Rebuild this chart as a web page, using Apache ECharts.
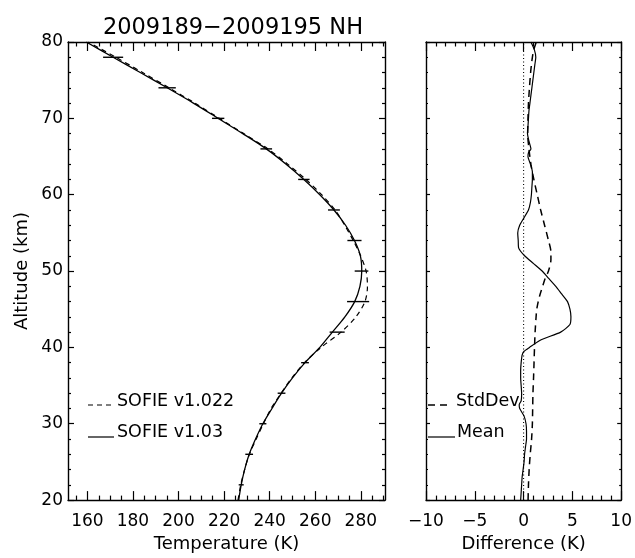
<!DOCTYPE html>
<html>
  <head>
    <meta charset="utf-8" />
    <title>2009189-2009195 NH</title>
    <script src="https://cdn.jsdelivr.net/npm/echarts@6/dist/echarts.min.js"></script>
  </head>
  <body style="margin: 0; background: #fff">
    <div id="main" style="width: 635px; height: 558px"></div>

    <script type="text/javascript">
      // temperature profiles, 2 km grid
      var altitude = [20, 22, 24, 26, 28, 30, 32, 34, 36, 38, 40, 42, 44, 46, 48, 50,
        52, 54, 56, 58, 60, 62, 64, 66, 68, 70, 72, 74, 76, 78, 80];
      var tempV103 = [226.4, 227.5, 229.0, 231.0, 233.8, 237.0, 241.0, 245.2, 250.0, 255.5,
        262.0, 267.5, 273.0, 277.3, 279.6, 280.4, 279.8, 277.2, 273.3, 268.2, 262.0,
        255.0, 247.2, 238.5, 228.2, 217.4, 206.5, 195.0, 183.2, 171.3, 159.5];
      var tempV1022 = [226.1, 227.3, 229.0, 231.1, 234.1, 237.25, 240.6, 245.0, 249.7, 255.25,
        262.6, 271.3, 277.85, 281.8, 282.9, 282.3, 279.9, 276.65, 272.9, 268.7, 262.8,
        255.9, 247.9, 239.25, 228.6, 217.9, 207.15, 195.85, 184.25, 172.55, 160.25];

      // horizontal error bars (centre, half width)
      var errAlt = [78, 74, 70, 66, 62, 58, 54, 50, 46, 42, 38, 34, 30, 26, 22];
      var errT = [171.3, 195.0, 217.4, 238.5, 255.0, 268.2, 277.2, 280.3, 278.8, 269.6,
        255.5, 245.2, 237.0, 231.0, 227.5];
      var errHalf = [4.4, 3.8, 2.7, 2.55, 2.5, 2.6, 3.1, 3.0, 4.85, 3.3, 1.7, 1.7, 1.55, 1.7, 1.1];

      // difference panel
      var meanAlt = [20, 21, 22, 23, 24, 25, 26, 27, 28, 29, 30, 31, 32, 32.5, 33, 34, 35, 36,
        37, 38, 39, 39.5, 40, 41, 42, 43, 44, 45, 46, 47, 48, 49, 50, 51, 52, 53, 54, 55, 56,
        57, 58, 59, 60, 61, 62, 63, 64, 65, 65.5, 66, 67, 68, 69, 70, 71, 72, 73, 74, 75, 76,
        77, 78, 79, 80];
      var meanDiff = [-0.3, -0.25, -0.2, -0.15, -0.05, 0.05, 0.1, 0.2, 0.3, 0.3, 0.25, 0.05,
        -0.4, -0.45, -0.25, -0.2, -0.25, -0.3, -0.3, -0.25, -0.15, 0.05, 0.6, 1.8, 3.8, 4.75,
        4.85, 4.75, 4.5, 3.9, 3.3, 2.6, 1.9, 1.0, 0.1, -0.5, -0.55, -0.6, -0.4, 0.05, 0.5,
        0.7, 0.8, 0.85, 0.9, 0.9, 0.7, 0.45, 0.5, 0.75, 0.55, 0.4, 0.45, 0.5, 0.55, 0.65,
        0.75, 0.85, 0.95, 1.05, 1.15, 1.25, 1.1, 0.75];
      var sdAlt = [20, 22, 24, 26, 28, 30, 32, 34, 36, 38, 40, 42, 44, 45, 46, 47, 48, 49, 50,
        51.5, 52.5, 54, 56, 58, 60, 62, 64, 66, 68, 70, 72, 74, 76, 77, 78, 79, 80];
      var stdDev = [0.46, 0.5, 0.57, 0.68, 0.82, 0.9, 0.93, 0.96, 1.02, 1.07, 1.12, 1.18, 1.28,
        1.35, 1.5, 1.7, 1.95, 2.2, 2.55, 2.8, 2.8, 2.55, 2.15, 1.75, 1.4, 1.05, 0.75, 0.55,
        0.42, 0.45, 0.5, 0.6, 0.72, 0.8, 0.9, 1.05, 1.3];
      var zeroX = [0, 0];
      var zeroAlt = [20, 80];

      // tick labels
      var tempTicks = [160, 180, 200, 220, 240, 260, 280];
      var tempMinor = [155, 165, 170, 175, 185, 190, 195, 205, 210, 215, 225, 230, 235,
        245, 250, 255, 265, 270, 275, 285, 290];

      function pairs(xs, ys) {
        return xs.map(function (x, i) {
          return [x, ys[i]];
        });
      }

      var font = "DejaVu Sans";
      var ink = "#000";
      var tMin = 151.5;
      var tMax = 290.6;

      function tempAxis(pos, ticks, len, main) {
        return {
          type: "value",
          gridIndex: 0,
          position: pos,
          min: tMin,
          max: tMax,
          name: main && pos === "bottom" ? "Temperature (K)" : "",
          nameLocation: "middle",
          nameGap: 33,
          nameTextStyle: { fontFamily: font, fontSize: 18, color: ink },
          axisLine: { show: main, onZero: false, lineStyle: { color: ink, width: 1.4 } },
          axisTick: { inside: true, length: len, customValues: ticks, lineStyle: { color: ink, width: 1.2 } },
          axisLabel: {
            show: main && pos === "bottom",
            customValues: tempTicks,
            margin: 13,
            fontFamily: font,
            fontSize: 17,
            color: ink,
          },
          splitLine: { show: false },
        };
      }

      function altAxis(grid, pos, tick, labels) {
        return {
          type: "value",
          gridIndex: grid,
          position: pos,
          min: 20,
          max: 80,
          interval: 10,
          name: labels ? "Altitude (km)" : "",
          nameLocation: "middle",
          nameGap: 37,
          nameTextStyle: { fontFamily: font, fontSize: 18, color: ink },
          axisLine: { onZero: false, lineStyle: { color: ink, width: 1.4 } },
          axisTick: { inside: true, length: tick, lineStyle: { color: ink, width: 1.2 } },
          minorTick: { show: true, splitNumber: 5, length: tick / 2, lineStyle: { color: ink, width: 1.2 } },
          axisLabel: { show: labels, margin: 5, fontFamily: font, fontSize: 17, color: ink },
          splitLine: { show: false },
        };
      }

      function diffAxis(pos) {
        return {
          type: "value",
          gridIndex: 1,
          position: pos,
          min: -10,
          max: 10,
          interval: 5,
          name: pos === "bottom" ? "Difference (K)" : "",
          nameLocation: "middle",
          nameGap: 33,
          nameTextStyle: { fontFamily: font, fontSize: 18, color: ink },
          axisLine: { onZero: false, lineStyle: { color: ink, width: 1.4 } },
          axisTick: { inside: true, length: 9, lineStyle: { color: ink, width: 1.2 } },
          minorTick: { show: true, splitNumber: 5, length: 4.5, lineStyle: { color: ink, width: 1.2 } },
          axisLabel: {
            show: pos === "bottom",
            margin: 13,
            fontFamily: font,
            fontSize: 17,
            color: ink,
            formatter: function (v) {
              return String(v).replace("-", "\u2212");
            },
          },
          splitLine: { show: false },
        };
      }

      var chart = echarts.init(document.getElementById("main"));
      var option = {
        animation: false,
        backgroundColor: "#fff",
        title: {
          text: "2009189\u22122009195 NH",
          left: 228,
          top: 12,
          textAlign: "center",
          textStyle: { fontFamily: font, fontSize: 22.5, fontWeight: "normal", color: ink },
        },
        grid: [
          { left: 68, top: 42, width: 317, height: 465 },
          { left: 426, top: 42, width: 197, height: 465 },
        ],
        xAxis: [
          tempAxis("bottom", tempTicks, 9, true),
          tempAxis("bottom", tempMinor, 4.5, false),
          tempAxis("top", tempTicks, 9, true),
          tempAxis("top", tempMinor, 4.5, false),
          diffAxis("bottom"),
          diffAxis("top"),
        ],
        yAxis: [
          altAxis(0, "left", 6, true),
          altAxis(0, "right", 6, false),
          altAxis(1, "left", 4, false),
          altAxis(1, "right", 4, false),
        ],
        graphic: [
          { type: "line", shape: { x1: 88, y1: 405, x2: 114, y2: 405 },
            style: { stroke: ink, lineWidth: 1.2, lineDash: [5, 4] } },
          { type: "text", x: 117, y: 401,
            style: { text: "SOFIE v1.022", fontFamily: font, fontSize: 17.5, fill: ink, verticalAlign: "middle" } },
          { type: "line", shape: { x1: 88, y1: 437, x2: 114, y2: 437 },
            style: { stroke: ink, lineWidth: 1.2 } },
          { type: "text", x: 117, y: 432,
            style: { text: "SOFIE v1.03", fontFamily: font, fontSize: 17.5, fill: ink, verticalAlign: "middle" } },
          { type: "line", shape: { x1: 428, y1: 405, x2: 451, y2: 405 },
            style: { stroke: ink, lineWidth: 1.5, lineDash: [7, 5] } },
          { type: "text", x: 456, y: 401,
            style: { text: "StdDev", fontFamily: font, fontSize: 17.5, fill: ink, verticalAlign: "middle" } },
          { type: "line", shape: { x1: 428, y1: 437, x2: 455, y2: 437 },
            style: { stroke: ink, lineWidth: 1.2 } },
          { type: "text", x: 457, y: 432,
            style: { text: "Mean", fontFamily: font, fontSize: 17.5, fill: ink, verticalAlign: "middle" } },
        ],
        series: [
          {
            name: "SOFIE v1.022",
            type: "line",
            xAxisIndex: 0,
            yAxisIndex: 0,
            data: pairs(tempV1022, altitude),
            symbol: "none",
            smooth: 0.3,
            lineStyle: { color: ink, width: 1.2, type: [5, 4] },
          },
          {
            name: "SOFIE v1.03",
            type: "line",
            xAxisIndex: 0,
            yAxisIndex: 0,
            data: pairs(tempV103, altitude),
            symbol: "none",
            smooth: 0.3,
            lineStyle: { color: ink, width: 1.3 },
          },
          {
            name: "error",
            type: "custom",
            xAxisIndex: 0,
            yAxisIndex: 0,
            data: errAlt.map(function (a, i) {
              return [errT[i], a, errHalf[i]];
            }),
            encode: { x: 0, y: 1 },
            renderItem: function (params, api) {
              var t = api.value(0);
              var a = api.value(1);
              var h = api.value(2);
              var p1 = api.coord([t - h, a]);
              var p2 = api.coord([t + h, a]);
              return {
                type: "line",
                shape: { x1: p1[0], y1: p1[1], x2: p2[0], y2: p2[1] },
                style: { stroke: ink, lineWidth: 1.4 },
              };
            },
          },
          {
            name: "zero",
            type: "line",
            xAxisIndex: 4,
            yAxisIndex: 2,
            data: pairs(zeroX, zeroAlt),
            symbol: "none",
            lineStyle: { color: ink, width: 1.1, type: [1, 2.5] },
          },
          {
            name: "StdDev",
            type: "line",
            xAxisIndex: 4,
            yAxisIndex: 2,
            data: pairs(stdDev, sdAlt),
            symbol: "none",
            smooth: 0.3,
            lineStyle: { color: ink, width: 1.5, type: [7, 5] },
          },
          {
            name: "Mean",
            type: "line",
            xAxisIndex: 4,
            yAxisIndex: 2,
            data: pairs(meanDiff, meanAlt),
            symbol: "none",
            smooth: 0.2,
            lineStyle: { color: ink, width: 1.2 },
          },
        ],
      };

      option && chart.setOption(option);
    </script>
  </body>
</html>
